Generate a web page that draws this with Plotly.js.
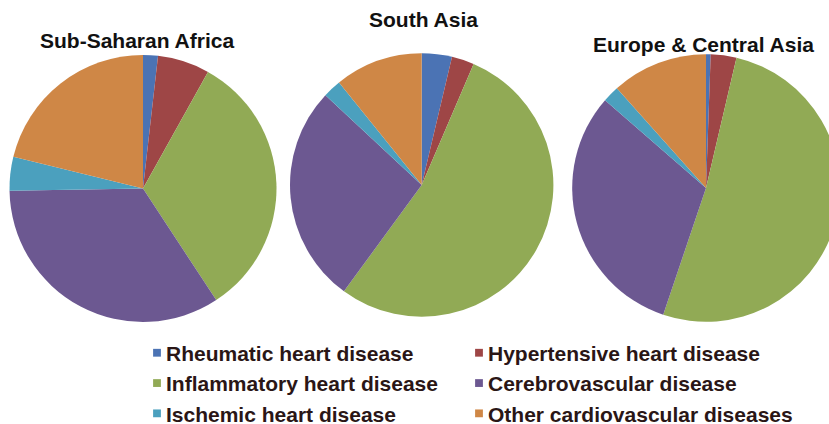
<!DOCTYPE html>
<html><head><meta charset="utf-8">
<script src="https://cdn.plot.ly/plotly-3.0.1.min.js"></script>
<style>
html,body{margin:0;padding:0;overflow:hidden;background:#fff;}
#chart{width:845px;height:440px;}
.legendpie{transform:translate(31px,0px) scale(0.65);}
.legend .scrollbox{clip-path:none !important;}
</style></head><body><div id="chart"></div>
<script>
// ---- data ----
const categories = ['Rheumatic heart disease','Hypertensive heart disease','Inflammatory heart disease','Cerebrovascular disease','Ischemic heart disease','Other cardiovascular diseases'];
const regions = ['Sub-Saharan Africa','South Asia','Europe & Central Asia'];
const subSaharanAfrica = [1.8, 6.3, 32.7, 34.0, 4.1, 21.2];
const southAsia = [3.7, 2.75, 53.6, 26.9, 2.25, 10.8];
const europeCentralAsia = [0.56, 3.1, 51.5, 31.2, 2.0, 11.6];

// ---- style ----
const sliceColors = ['#4B73B4','#9E4646','#91AA55','#6C5891','#4BA0BE','#CF8746'];
const W = 845, H = 440;
function dom(cx, cy, r){ return {x:[(cx-r)/W,(cx+r)/W], y:[(H-cy-r)/H,(H-cy+r)/H]}; }
const pieGeom = [dom(143,188.5,133.5), dom(421.7,185,131.7), dom(706,188,133.8)];
const titlePos = [[137.2,40.8],[423.3,20],[703.8,44.7]];
const seriesList = [subSaharanAfrica, southAsia, europeCentralAsia];

const traces = seriesList.map((vals,i)=>({
  type:'pie', labels:categories, values:vals, name:regions[i],
  sort:false, direction:'clockwise', rotation:0,
  textinfo:'none', hoverinfo:'label+percent',
  marker:{colors:sliceColors, line:{width:0}},
  domain:pieGeom[i]
}));

const titleFont = {family:'Liberation Sans, Arial, sans-serif', size:21, weight:'bold', color:'#111111'};
const annotations = regions.map((t,i)=>({
  text:t, xref:'paper', yref:'paper', x:titlePos[i][0]/W, y:1-titlePos[i][1]/H,
  xanchor:'center', yanchor:'middle', showarrow:false, font:titleFont
}));

const layout = {
  width:W, height:H, margin:{l:0,r:0,t:0,b:0},
  paper_bgcolor:'#ffffff', plot_bgcolor:'#ffffff',
  showlegend:true,
  legend:{orientation:'h', x:126/W, xanchor:'left', y:1-332.6/H, yanchor:'top',
    entrywidth:277, entrywidthmode:'pixels', traceorder:'normal',
    bgcolor:'rgba(0,0,0,0)', borderwidth:0,
    font:{family:'Liberation Sans, Arial, sans-serif', size:21, weight:'bold', color:'#2a1616'}},
  annotations:annotations
};
Plotly.newPlot('chart', traces, layout, {displayModeBar:false, staticPlot:true});
</script></body></html>
